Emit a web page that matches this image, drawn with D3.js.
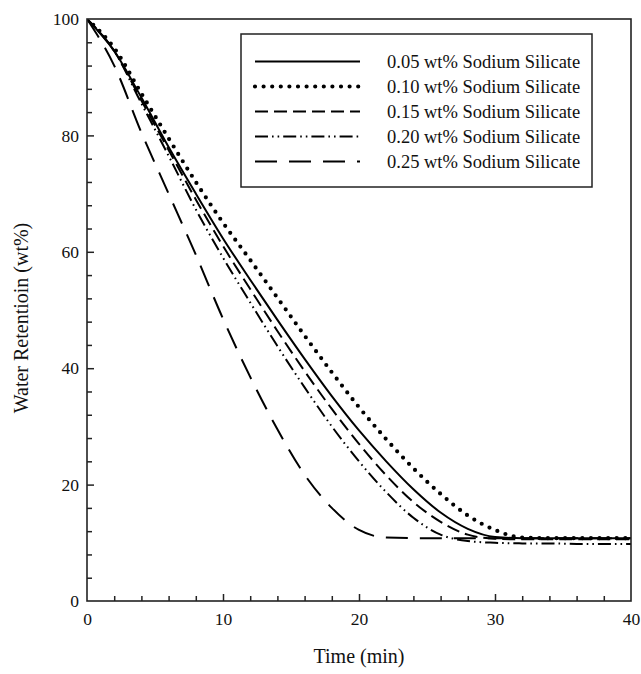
<!DOCTYPE html>
<html>
<head>
<meta charset="utf-8">
<script src="https://cdn.jsdelivr.net/npm/d3@7"></script>
<style>
  html, body { margin: 0; padding: 0; background: #fff; }
  svg text { font-family: "Liberation Serif", "Times New Roman", Times, "DejaVu Serif", serif !important; fill: #111; }
</style>
</head>
<body>
<svg id="chart" width="641" height="674" font-family="'Liberation Serif', 'DejaVu Serif', serif"></svg>
<script>
// ---- data ----
const times = [0, 2, 4, 6, 8, 10, 12, 14, 16, 18, 20, 22, 24, 26, 28, 30, 32, 34, 36, 38, 40];
const seriesNames = [
  "0.05 wt% Sodium Silicate",
  "0.10 wt% Sodium Silicate",
  "0.15 wt% Sodium Silicate",
  "0.20 wt% Sodium Silicate",
  "0.25 wt% Sodium Silicate"
];
const s005 = [100, 94.5, 86.5, 78, 70, 62.3, 55.2, 48.3, 41.6, 35.2, 29.3, 24, 19.2, 15.2, 12.4, 11.0, 10.8, 10.8, 10.8, 10.8, 10.8];
const s010 = [100, 95, 87.2, 79.5, 72, 65, 58.6, 52.1, 45.6, 39.3, 33.3, 27.8, 22.8, 18.4, 14.7, 12.2, 10.9, 10.8, 10.8, 10.8, 10.8];
const s015 = [100, 94.5, 86, 77.5, 69, 61, 53.6, 46.4, 39.5, 33, 27, 21.6, 17, 13.6, 11.4, 10.7, 10.6, 10.6, 10.6, 10.6, 10.6];
const s020 = [100, 94.5, 85.5, 76.5, 67.3, 59, 51.3, 43.8, 36.7, 30, 24, 18.7, 14.3, 11.4, 10.3, 10.0, 9.9, 9.9, 9.8, 9.8, 9.8];
const s025 = [100, 92, 80.5, 70, 59.5, 48.5, 38.5, 29.5, 21.7, 16, 12.2, 10.9, 10.8, 10.8, 10.8, 10.8, 10.8, 10.8, 10.8, 10.8, 10.8];
const seriesValues = [s005, s010, s015, s020, s025];
const xMajorTicks = [0, 10, 20, 30, 40];
const yMajorTicks = [0, 20, 40, 60, 80, 100];
const xLabel = "Time (min)";
const yLabel = "Water Retentioin (wt%)";

// ---- styles ----
const FONT = "'Liberation Serif', 'DejaVu Serif', serif";
const styles = [
  { dash: null, width: 2, cap: "butt" },
  { dash: "0 8.6", width: 4.2, cap: "round" },
  { dash: "13 6", width: 2, cap: "butt" },
  { dash: "13 4 1.6 4 1.6 4", width: 2, cap: "butt" },
  { dash: "22 12", width: 2, cap: "butt" }
];

const svg = d3.select("#chart");
const L = 87, R = 631, T = 19, B = 601;
const x = d3.scaleLinear().domain([0, 40]).range([L, R]);
const y = d3.scaleLinear().domain([0, 100]).range([B, T]);

svg.append("defs").append("clipPath").attr("id", "clip")
  .append("rect").attr("x", L).attr("y", T).attr("width", R - L).attr("height", B - T);

const plot = svg.append("g");
const line = d3.line()
  .x(d => x(d[0])).y(d => y(d[1]))
  .curve(d3.curveMonotoneX);

seriesValues.forEach((vals, i) => {
  const pts = times.map((t, j) => [t, vals[j]]);
  const p = plot.append("path")
    .attr("clip-path", "url(#clip)")
    .attr("d", line(pts))
    .attr("fill", "none")
    .attr("stroke", "#000")
    .attr("stroke-width", styles[i].width)
    .attr("stroke-linecap", styles[i].cap);
  if (styles[i].dash) p.attr("stroke-dasharray", styles[i].dash);
});

// axes (ticks inward)
const xAxis = d3.axisBottom(x)
  .tickValues(d3.range(0, 40.001, 2))
  .tickSize(-5)
  .tickFormat(d => xMajorTicks.includes(d) ? d : "");
const gx = svg.append("g").attr("transform", `translate(0,${B})`).call(xAxis)
  .attr("font-family", FONT);
gx.selectAll(".tick line").attr("y2", d => xMajorTicks.includes(d) ? -7 : -5)
  .attr("stroke", "#222").attr("stroke-width", 1.5);
gx.selectAll(".tick").filter(d => d === 0 || d === 40).select("line").remove();
gx.select(".domain").remove();
gx.selectAll(".tick text").attr("y", 12).attr("dy", "0.71em")
  .attr("font-size", 17.5).attr("fill", "#111");

const yAxis = d3.axisLeft(y)
  .tickValues(d3.range(0, 100.001, 4))
  .tickSize(-5)
  .tickFormat(d => yMajorTicks.includes(d) ? d : "");
const gy = svg.append("g").attr("transform", `translate(${L},0)`).call(yAxis)
  .attr("font-family", FONT);
gy.selectAll(".tick line").attr("x2", d => yMajorTicks.includes(d) ? 7 : 5)
  .attr("stroke", "#222").attr("stroke-width", 1.5);
gy.selectAll(".tick").filter(d => d === 0 || d === 100).select("line").remove();
gy.select(".domain").remove();
gy.selectAll(".tick text").attr("x", -8)
  .attr("font-size", 17.5).attr("fill", "#111");

// frame
svg.append("rect").attr("x", L).attr("y", T).attr("width", R - L).attr("height", B - T)
  .attr("fill", "none").attr("stroke", "#222").attr("stroke-width", 1.6);

// axis labels
svg.append("text").attr("x", (L + R) / 2).attr("y", 663)
  .attr("text-anchor", "middle").attr("font-size", 20).text(xLabel);
svg.append("text")
  .attr("transform", `translate(28,${(T + B) / 2 + 8}) rotate(-90)`)
  .attr("text-anchor", "middle").attr("font-size", 20).text(yLabel);

// legend
const lg = svg.append("g");
lg.append("rect").attr("x", 241).attr("y", 34).attr("width", 351).attr("height", 153)
  .attr("fill", "#fff").attr("stroke", "#222").attr("stroke-width", 1.5);
seriesNames.forEach((name, i) => {
  const yy = 61.5 + i * 25;
  const l = lg.append("line").attr("x1", 255).attr("x2", 360).attr("y1", yy).attr("y2", yy)
    .attr("stroke", "#000").attr("stroke-width", styles[i].width)
    .attr("stroke-linecap", styles[i].cap);
  if (styles[i].dash) l.attr("stroke-dasharray", styles[i].dash);
  lg.append("text").attr("x", 387).attr("y", yy).attr("dy", "0.35em")
    .attr("font-size", 18.5).text(name);
});
</script>
</body>
</html>
